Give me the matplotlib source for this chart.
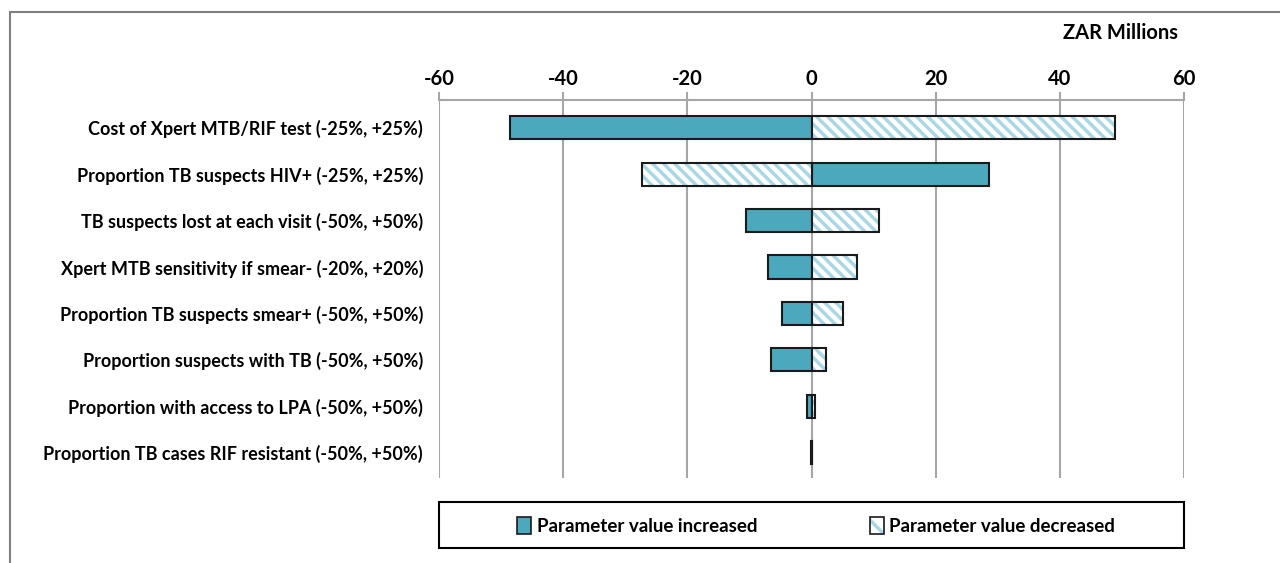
import matplotlib.pyplot as plt
from matplotlib.patches import Rectangle, Patch
from matplotlib.legend_handler import HandlerTuple

plt.rcParams['font.family'] = ['Lato', 'DejaVu Sans']
plt.rcParams['hatch.linewidth'] = 2.5

# Tornado data (ZAR Millions)
params = [
    "Cost of Xpert MTB/RIF test (-25%, +25%)",
    "Proportion TB suspects HIV+ (-25%, +25%)",
    "TB suspects lost at each visit (-50%, +50%)",
    "Xpert MTB sensitivity if smear- (-20%, +20%)",
    "Proportion TB suspects smear+ (-50%, +50%)",
    "Proportion suspects with TB (-50%, +50%)",
    "Proportion with access to LPA (-50%, +50%)",
    "Proportion TB cases RIF resistant (-50%, +50%)",
]
increased = [-48.5, 28.6, -10.6, -7.0, -4.7, -6.6, -0.7, -0.05]
decreased = [48.9, -27.3, 10.9, 7.3, 5.0, 2.4, 0.5, 0.05]
ticks = [-60, -40, -20, 0, 20, 40, 60]

teal = "#4BA8BD"
light = "#A9D7E5"

fig = plt.figure(figsize=(12.8, 5.63), dpi=100)
ax = fig.add_axes([439/1280, 1-478/563, 745/1280, 378/563])

y = list(range(len(params)))
h = 0.5
ax.barh(y, increased, height=h, color=teal, edgecolor="#1a1a1a", linewidth=1.5, zorder=3)
ax.barh(y, decreased, height=h, color="white", edgecolor=light, hatch="\\\\\\", linewidth=0, zorder=3)
ax.barh(y, decreased, height=h, color="none", edgecolor="#1a1a1a", linewidth=1.5, zorder=4)

ax.set_xlim(-60, 60)
ax.set_ylim(7.55, -0.6)
ax.set_xticks(ticks)
ax.set_xticklabels([str(t) for t in ticks], fontsize=14.5, fontweight="bold")
ax.xaxis.tick_top()
ax.tick_params(axis="x", direction="out", length=6, color="#A6A6A6", width=1.5, pad=2)
ax.set_yticks(y)
ax.set_yticklabels(params, fontsize=13, fontweight="bold")
ax.tick_params(axis="y", length=0, pad=11.5)
ax.grid(axis="x", color="#A6A6A6", linewidth=1.5, zorder=0)
for s in ["left", "right", "bottom"]:
    ax.spines[s].set_visible(False)
ax.spines["top"].set_color("#A6A6A6")
ax.spines["top"].set_linewidth(1.5)

fig.text(1178/1280, 1-33/563, "ZAR Millions", ha="right", va="center",
         fontsize=14.5, fontweight="bold")

# outer chart frame
fig.patches.append(Rectangle((10/1280, -0.1), 1.2, 1-12/563+0.1, transform=fig.transFigure,
                             fill=False, edgecolor="#7F7F7F", linewidth=1.5))

# legend box
fig.patches.append(Rectangle((439/1280, 1-548/563), 745/1280, 46/563, transform=fig.transFigure,
                             fill=False, edgecolor="black", linewidth=1.5))
h_inc = Patch(facecolor=teal, edgecolor="#1a1a1a", linewidth=1.2)
h_dec = (Patch(facecolor="white", edgecolor=light, hatch="\\\\", linewidth=0),
         Patch(facecolor="none", edgecolor="#1a1a1a", linewidth=1.2))
fig.legend([h_inc, h_dec], ["Parameter value increased", "Parameter value decreased"],
           handler_map={tuple: HandlerTuple(ndivide=1, pad=0)},
           loc="center", bbox_to_anchor=(816/1280, 1-526/563), ncol=2,
           frameon=False, prop={"weight": "bold", "size": 13.5},
           handlelength=0.75, handleheight=1.0, handletextpad=0.3, columnspacing=6.0)

fig.savefig("out.png", dpi=100)
